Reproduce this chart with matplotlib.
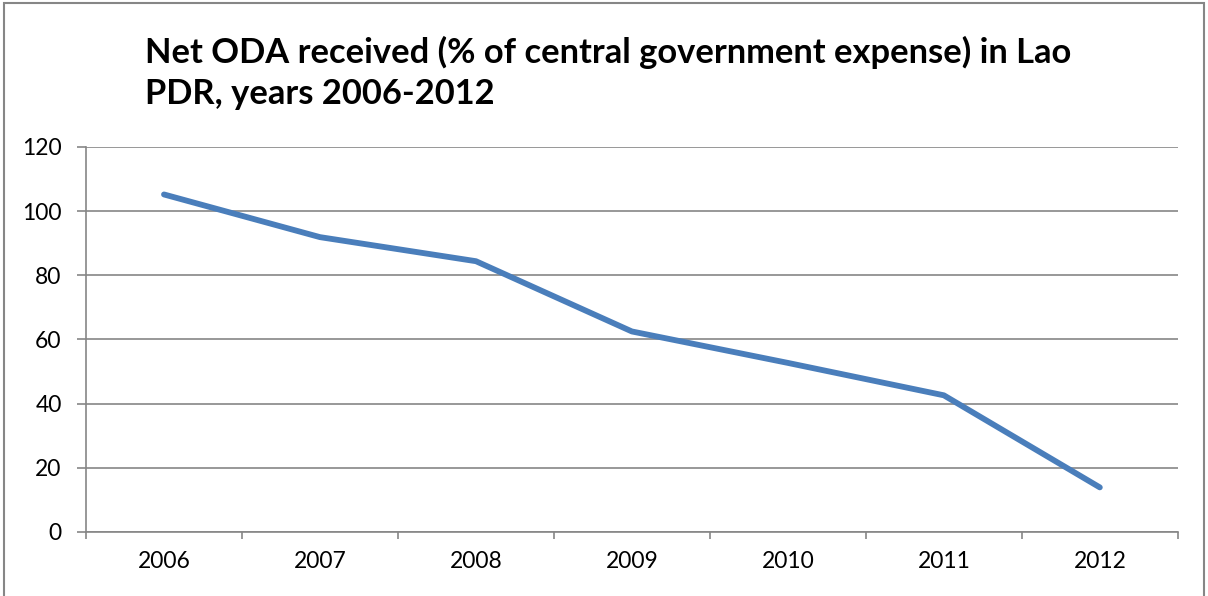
import matplotlib
matplotlib.use("Agg")
import matplotlib.pyplot as plt
from matplotlib.patches import Rectangle

plt.rcParams["font.family"] = ["Lato", "DejaVu Sans"]

# Net ODA received as % of central government expense, Lao PDR
years = ["2006", "2007", "2008", "2009", "2010", "2011", "2012"]
oda_pct = [105.2, 91.9, 84.4, 62.5, 52.7, 42.6, 13.9]

grid_color = "#868686"
line_color = "#4a7ebb"

fig = plt.figure(figsize=(12.08, 5.96), dpi=100)
ax = fig.add_axes([0.0712, 0.1074, 0.9038, 0.646])

x = list(range(len(years)))
ax.plot(x, oda_pct, color=line_color, lw=4.2, solid_capstyle="round",
        solid_joinstyle="round", zorder=3)

ax.set_xlim(-0.5, len(years) - 0.5)
ax.set_ylim(0, 120)
ax.set_yticks(range(0, 121, 20))
ax.yaxis.grid(True, color=grid_color, lw=1.2)
ax.set_axisbelow(True)

# category labels centred, tick marks on the boundaries
ax.set_xticks(x)
ax.set_xticklabels(years)
ax.tick_params(axis="x", which="major", length=0, pad=14, labelsize=16.5)
ax.set_xticks([i - 0.5 for i in range(len(years) + 1)], minor=True)
ax.tick_params(axis="x", which="minor", length=5, width=1.2, color=grid_color, direction="out")
ax.tick_params(axis="y", length=6.5, width=1.2, color=grid_color, direction="out", pad=11, labelsize=16.5)

for side in ("top", "right"):
    ax.spines[side].set_visible(False)
for side in ("left", "bottom"):
    ax.spines[side].set_color(grid_color)
    ax.spines[side].set_linewidth(1.2)

fig.text(0.12, 0.877, "Net ODA received (% of central government expense) in Lao\nPDR, years 2006-2012",
         ha="left", va="center", fontsize=24.8, fontweight="bold", linespacing=1.35)

# chart border
fig.patches.append(Rectangle((0.003, -0.01), 0.994, 1.005, transform=fig.transFigure,
                             fill=False, edgecolor=grid_color, lw=1.5))

fig.savefig("out.png", dpi=100)
